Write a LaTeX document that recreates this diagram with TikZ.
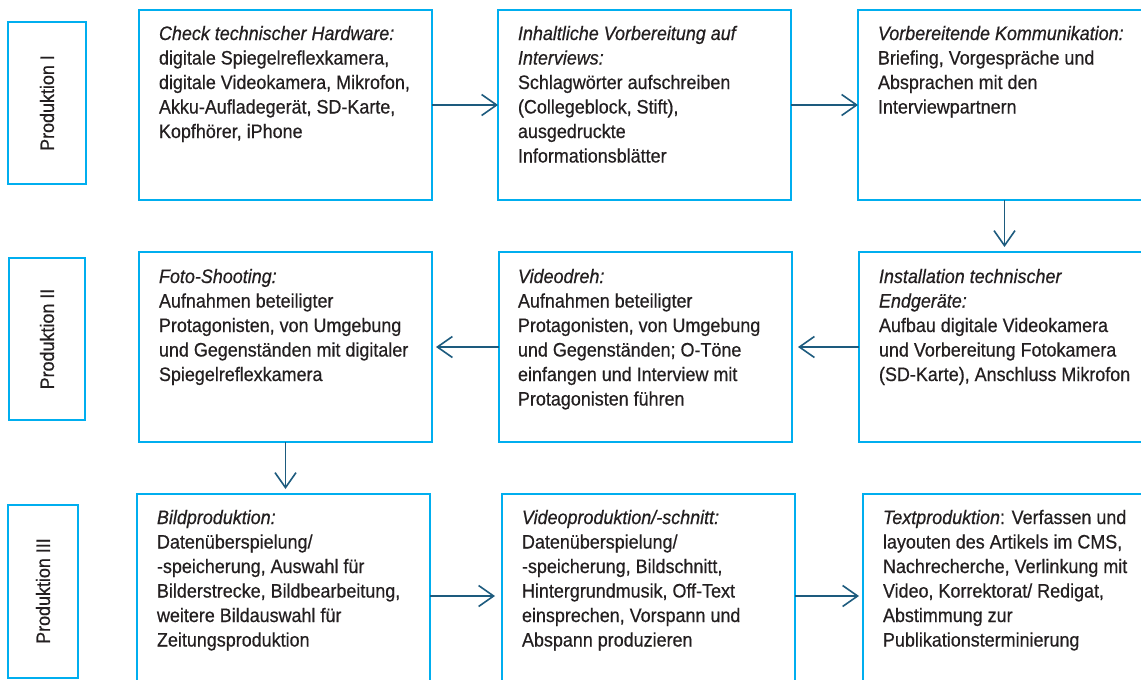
\documentclass[tikz,border=0pt]{standalone}
\usepackage{fontspec}
\setmainfont{Liberation Sans}[FakeStretch=0.92, FakeBold=0.5]
\usetikzlibrary{arrows.meta}
\definecolor{boxc}{HTML}{00AEEF}
\definecolor{arrc}{HTML}{1D5B7E}
\definecolor{txtc}{HTML}{231F20}
\tikzset{
  box/.style={draw=boxc, line width=2pt, minimum width=293pt, minimum height=190pt,
    anchor=north west, inner sep=0pt, outer sep=0pt},
  lowbox/.style={box, minimum height=204pt},
  labbox/.style={draw=boxc, line width=2pt, rotate=90, inner sep=0pt, outer sep=0pt,
    text=txtc, font=\fontsize{19.5}{24.5}\selectfont},
  txt/.style={anchor=north west, align=left, inner sep=0pt, outer sep=0pt, text=txtc,
    font=\fontsize{19.5}{24.5}\selectfont},
  flow/.style={draw=arrc, line width=1.6pt,
    -{Straight Barb[length=15pt,width=21pt,line width=1.6pt]}},
}
\newcommand{\fstrut}{\rule{0pt}{15pt}}
\begin{document}
\begin{tikzpicture}[x=1pt,y=-1pt]
\useasboundingbox (0,0) rectangle (1141,680);
\clip (0,0) rectangle (1141,680);
\fill[white] (0,0) rectangle (1141,680);

% phase labels
\node[labbox, minimum width=162pt, minimum height=78pt] (l1) at (47,103) {Produktion I};
\node[labbox, minimum width=162pt, minimum height=76pt] (l2) at (47,339) {Produktion II};
\node[labbox, minimum width=173pt, minimum height=70pt] (l3) at (43,591) {Produktion III};

% row 1
\node[box] (b1) at (139,10) {};
\node[box] (b2) at (498,10) {};
\node[box] (b3) at (858,10) {};
% row 2
\node[box] (b4) at (139,252) {};
\node[box] (b5) at (499,252) {};
\node[box] (b6) at (859,252) {};
% row 3
\node[lowbox] (b7) at (137,494) {};
\node[lowbox] (b8) at (502,494) {};
\node[lowbox] (b9) at (863,494) {};

% texts
\node[txt] (t1) at ([xshift=20pt,yshift=-15pt]b1.north west)
  {\fstrut\textit{Check technischer Hardware:}\\
   digitale Spiegelreflexkamera,\\
   digitale Videokamera, Mikrofon,\\
   Akku-Aufladegerät, SD-Karte,\\
   Kopfhörer, iPhone};
\node[txt] (t2) at ([xshift=20pt,yshift=-15pt]b2.north west)
  {\fstrut\textit{Inhaltliche Vorbereitung auf}\\
   \textit{Interviews:}\\
   Schlagwörter aufschreiben\\
   (Collegeblock, Stift),\\
   ausgedruckte\\
   Informationsblätter};
\node[txt] (t3) at ([xshift=20pt,yshift=-15pt]b3.north west)
  {\fstrut\textit{Vorbereitende Kommunikation:}\\
   Briefing, Vorgespräche und\\
   Absprachen mit den\\
   Interviewpartnern};
\node[txt] (t4) at ([xshift=20pt,yshift=-16pt]b4.north west)
  {\fstrut\textit{Foto-Shooting:}\\
   Aufnahmen beteiligter\\
   Protagonisten, von Umgebung\\
   und Gegenständen mit digitaler\\
   Spiegelreflexkamera};
\node[txt] (t5) at ([xshift=19pt,yshift=-16pt]b5.north west)
  {\fstrut\textit{Videodreh:}\\
   Aufnahmen beteiligter\\
   Protagonisten, von Umgebung\\
   und Gegenständen; O-Töne\\
   einfangen und Interview mit\\
   Protagonisten führen};
\node[txt] (t6) at ([xshift=20pt,yshift=-16pt]b6.north west)
  {\fstrut\textit{Installation technischer}\\
   \textit{Endgeräte:}\\
   Aufbau digitale Videokamera\\
   und Vorbereitung Fotokamera\\
   (SD-Karte), Anschluss Mikrofon};
\node[txt] (t7) at ([xshift=20pt,yshift=-15pt]b7.north west)
  {\fstrut\textit{Bildproduktion:}\\
   Datenüberspielung/\\
   -speicherung, Auswahl für\\
   Bilderstrecke, Bildbearbeitung,\\
   weitere Bildauswahl für\\
   Zeitungsproduktion};
\node[txt] (t8) at ([xshift=20pt,yshift=-15pt]b8.north west)
  {\fstrut\textit{Videoproduktion/-schnitt:}\\
   Datenüberspielung/\\
   -speicherung, Bildschnitt,\\
   Hintergrundmusik, Off-Text\\
   einsprechen, Vorspann und\\
   Abspann produzieren};
\node[txt] (t9) at ([xshift=20pt,yshift=-15pt]b9.north west)
  {\fstrut\textit{Textproduktion}: Verfassen und\\
   layouten des Artikels im CMS,\\
   Nachrecherche, Verlinkung mit\\
   Video, Korrektorat/ Redigat,\\
   Abstimmung zur\\
   Publikationsterminierung};

% connectors
\draw[flow] (b1.east) -- (b2.west);
\draw[flow] (b2.east) -- (b3.west);
\draw[flow, shorten >=5pt] (b3.south) -- (b3.south |- b6.north);
\draw[flow, shorten >=6pt] (b6.west) -- (b5.east);
\draw[flow, shorten >=4pt] (b5.west) -- (b4.east);
\draw[flow, shorten >=5pt] (b4.south) -- (b4.south |- b7.north);
\draw[flow, shorten >=7pt] (b7.east) -- (b8.west);
\draw[flow, shorten >=4pt] (b8.east) -- (b9.west);
\end{tikzpicture}
\end{document}
